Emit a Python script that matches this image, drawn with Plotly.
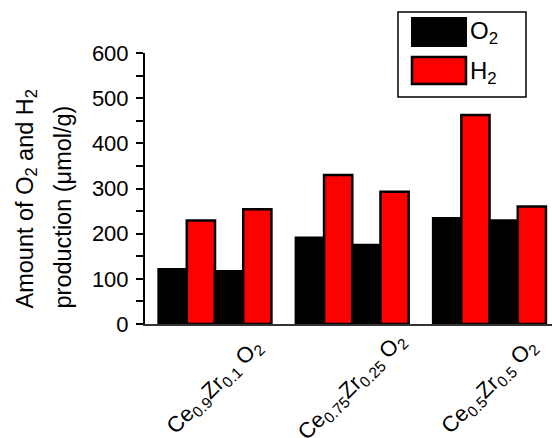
import plotly.graph_objects as go

categories = ["Ce0.9Zr0.1O2", "Ce0.75Zr0.25O2", "Ce0.5Zr0.5O2"]
category_labels = [
    "Ce<sub>0.9</sub>Zr<sub>0.1</sub> O<sub>2</sub>",
    "Ce<sub>0.75</sub>Zr<sub>0.25</sub> O<sub>2</sub>",
    "Ce<sub>0.5</sub>Zr<sub>0.5</sub> O<sub>2</sub>",
]
y_title_lines = ["Amount of O<sub>2</sub> and H<sub>2</sub>", "production (μmol/g)"]
o2_run1 = [121, 191, 234]
h2_run1 = [229, 330, 463]
o2_run2 = [117, 175, 229]
h2_run2 = [254, 293, 260]
y_ticks = [0, 100, 200, 300, 400, 500, 600]

FONT = "Liberation Sans"
BLACK = "#000000"
RED = "#ff0000"

fig = go.Figure()
series = [
    ("O<sub>2</sub>", o2_run1, BLACK),
    ("H<sub>2</sub>", h2_run1, RED),
    ("O<sub>2</sub>", o2_run2, BLACK),
    ("H<sub>2</sub>", h2_run2, RED),
]
for name, vals, col in series:
    fig.add_trace(go.Bar(
        x=categories, y=vals, name=name,
        marker=dict(color=col, line=dict(color=BLACK, width=2.5)),
        showlegend=False,
    ))

L, R, T, B = 145, 0, 53, 114
W, H = 552, 438

fig.update_layout(
    width=W, height=H,
    margin=dict(l=L, r=R, t=T, b=B),
    paper_bgcolor="white", plot_bgcolor="white",
    barmode="group", bargap=0.178, bargroupgap=0,
    font=dict(family=FONT, color="black", size=22),
)
fig.update_xaxes(
    range=[-0.51, 2.455], showticklabels=False, ticks="",
    showline=True, linecolor="#333333", linewidth=2,
    showgrid=False, zeroline=False,
)
fig.update_yaxes(
    range=[0, 600], tickvals=y_ticks, ticks="outside", ticklen=7, tickwidth=1.5,
    tickcolor="black", showline=True, linecolor="black", linewidth=2,
    showgrid=False, zeroline=False, tickfont=dict(size=22, family=FONT),
    ticklabelstandoff=3,
    minor=dict(dtick=50, ticks="outside", ticklen=7, tickwidth=1.5, tickcolor="black"),
)

pw, ph = W - L - R, H - T - B
def px(xp):
    return (xp - L) / pw
def py(yp):
    return (H - B - yp) / ph

# y-axis title (two lines placed separately to match line spacing)
for line, xc, yc in zip(y_title_lines, [26, 62.5], [198.5, 207]):
    fig.add_annotation(
        x=px(xc), y=py(yc), xref="paper", yref="paper", text=line,
        showarrow=False, textangle=-90, xanchor="center", yanchor="middle",
        font=dict(size=23.5, family=FONT, color="black"),
    )

# rotated category labels
for cat, lab in zip(categories, category_labels):
    fig.add_annotation(
        x=cat, xref="x", y=py(387), yref="paper", text=lab, showarrow=False,
        textangle=-45, xanchor="center", yanchor="middle",
        font=dict(size=22, family=FONT, color="black"),
    )

# legend box drawn in paper coordinates
fig.add_shape(type="rect", xref="paper", yref="paper",
              x0=px(398), x1=px(526), y0=py(97), y1=py(12),
              line=dict(color="black", width=1.5), fillcolor="white")
fig.add_shape(type="rect", xref="paper", yref="paper",
              x0=px(412), x1=px(466), y0=py(46), y1=py(18),
              line=dict(color="black", width=2), fillcolor=BLACK)
fig.add_shape(type="rect", xref="paper", yref="paper",
              x0=px(412), x1=px(466), y0=py(84), y1=py(57),
              line=dict(color="black", width=2.5), fillcolor=RED)
for txt, yc in [("O<sub>2</sub>", 33), ("H<sub>2</sub>", 72)]:
    fig.add_annotation(x=px(468), y=py(yc), xref="paper", yref="paper",
                       text=txt, showarrow=False, xanchor="left", yanchor="middle",
                       font=dict(size=24, family=FONT, color="black"))

fig.write_html(
    "out.html",
    config={"displayModeBar": False},
    post_script="document.body.style.margin='0';document.body.style.overflow='hidden';",
)
